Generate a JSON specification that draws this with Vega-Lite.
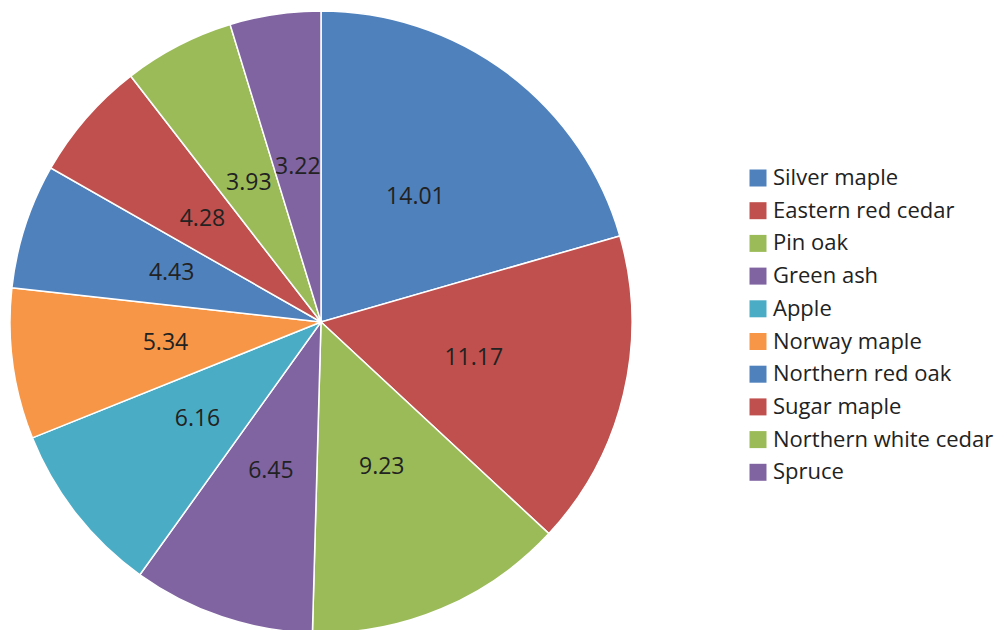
{
  "$schema": "https://vega.github.io/schema/vega-lite/v6.json",
  "width": 642,
  "height": 644,
  "padding": 0,
  "background": "white",
  "config": {"view": {"stroke": null}, "font": "Open Sans"},
  "data": {"values": [
    {"idx": 1, "tree": "Silver maple", "value": 14.01},
    {"idx": 2, "tree": "Eastern red cedar", "value": 11.17},
    {"idx": 3, "tree": "Pin oak", "value": 9.23},
    {"idx": 4, "tree": "Green ash", "value": 6.45},
    {"idx": 5, "tree": "Apple", "value": 6.16},
    {"idx": 6, "tree": "Norway maple", "value": 5.34},
    {"idx": 7, "tree": "Northern red oak", "value": 4.43},
    {"idx": 8, "tree": "Sugar maple", "value": 4.28},
    {"idx": 9, "tree": "Northern white cedar", "value": 3.93},
    {"idx": 10, "tree": "Spruce", "value": 3.22}
  ]},
  "encoding": {
    "theta": {"field": "value", "type": "quantitative", "stack": true},
    "order": {"field": "idx", "type": "quantitative"}
  },
  "layer": [
    {
      "mark": {"type": "arc", "outerRadius": 311, "stroke": "white", "strokeWidth": 1.5},
      "encoding": {
        "color": {
          "field": "tree", "type": "nominal",
          "scale": {
            "domain": ["Silver maple", "Eastern red cedar", "Pin oak", "Green ash", "Apple", "Norway maple", "Northern red oak", "Sugar maple", "Northern white cedar", "Spruce"],
            "range": ["#4F81BD", "#C0504D", "#9BBB59", "#8064A2", "#4BACC6", "#F79646", "#4F81BD", "#C0504D", "#9BBB59", "#8064A2"]
          },
          "legend": {
            "title": null,
            "orient": "none",
            "legendX": 747,
            "legendY": 167,
            "symbolType": "square",
            "symbolSize": 289,
            "symbolStrokeWidth": 0,
            "labelFont": "Open Sans",
            "labelFontSize": 22,
            "labelColor": "#222222",
            "labelOffset": 4,
            "rowPadding": 10.7,
            "labelLimit": 400
          }
        }
      }
    },
    {
      "mark": {"type": "text", "radius": 157, "fontSize": 23, "font": "Open Sans", "fill": "#222222"},
      "encoding": {
        "text": {"field": "value", "type": "quantitative", "format": ".2f"}
      }
    }
  ]
}
